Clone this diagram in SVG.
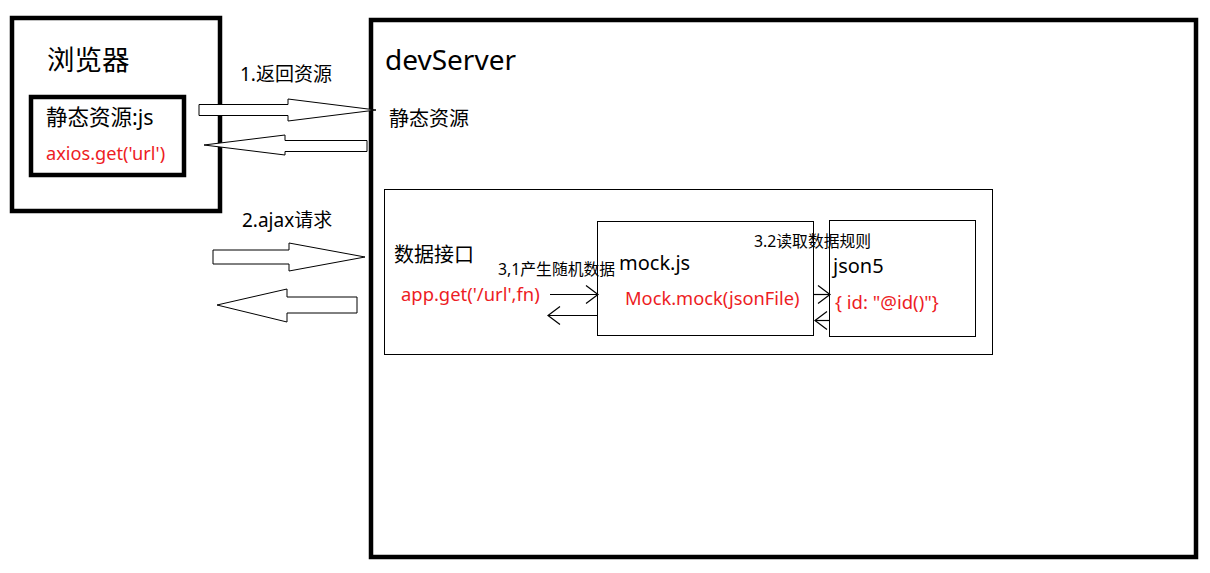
<svg xmlns="http://www.w3.org/2000/svg" width="1210" height="573" viewBox="0 0 1210 573">
<style>
text{font-family:"Noto Sans","Noto Sans CJK SC",sans-serif;fill:#000}
.red{fill:#ed1c24}
.thick{fill:none;stroke:#000;stroke-width:4.5}
.thin{fill:none;stroke:#000;stroke-width:1}
.big{fill:#fff;stroke:#000;stroke-width:1}
.ln{stroke:#000;stroke-width:1.2;fill:none}
</style>
<defs>
<marker id="open" viewBox="0 0 14 20" refX="13" refY="10" markerWidth="14" markerHeight="20" markerUnits="userSpaceOnUse" orient="auto">
<path d="M1,1 L13,10 L1,19" fill="none" stroke="#000" stroke-width="1.2"/>
</marker>
</defs>
<rect width="1210" height="573" fill="#fff"/>
<g id="browser">
<rect class="thick" x="12" y="18" width="208" height="193"/>
<text x="47" y="70" font-size="27.5">浏览器</text>
</g>
<g id="static-js">
<rect class="thick" x="31" y="97" width="153" height="78"/>
<text x="46" y="125" font-size="21.5">静态资源:js</text>
<text class="red" x="46" y="160" font-size="18.2">axios.get('url')</text>
</g>
<g id="devServer">
<rect class="thick" x="371" y="20" width="825" height="537"/>
<text x="385" y="70" font-size="28">devServer</text>
<text x="389" y="126" font-size="20">静态资源</text>
</g>
<g id="data-api">
<rect class="thin" x="384.5" y="189.5" width="608" height="165"/>
<text x="394" y="262" font-size="20">数据接口</text>
<text class="red" x="401" y="301" font-size="18.4">app.get('/url',fn)</text>
</g>
<g id="mockjs">
<rect class="thin" x="597.5" y="221.5" width="216" height="114"/>
<text x="619" y="270" font-size="20">mock.js</text>
<text class="red" x="625" y="305" font-size="18.3">Mock.mock(jsonFile)</text>
</g>
<g id="json5">
<rect class="thin" x="829.5" y="220.5" width="146" height="116"/>
<text x="833" y="273" font-size="20">json5</text>
<text class="red" x="835" y="309" font-size="18.5">{ id: "@id()"}</text>
</g>
<g id="connectors">
<path class="big" d="M199,104.5 L288,104.5 L288,99 L376,110 L288,121 L288,115.5 L199,115.5 Z"/>
<path class="big" d="M367,140.5 L285,140.5 L285,135 L204,145 L285,155 L285,151.5 L367,151.5 Z"/>
<path class="big" d="M213,250 L289,250 L289,243 L365,257 L289,271 L289,264 L213,264 Z"/>
<path class="big" d="M357,297 L287,297 L287,289 L217,305 L287,322 L287,313 L357,313 Z"/>
<line class="ln" x1="550" y1="294.5" x2="598" y2="294.5" marker-end="url(#open)"/>
<line class="ln" x1="597" y1="315.5" x2="548" y2="315.5" marker-end="url(#open)"/>
<line class="ln" x1="813" y1="294.5" x2="830" y2="294.5" marker-end="url(#open)"/>
<line class="ln" x1="829" y1="320.5" x2="815" y2="320.5" marker-end="url(#open)"/>
<text x="240" y="81" font-size="19">1.返回资源</text>
<text x="242" y="227" font-size="19">2.ajax请求</text>
<text x="498" y="275" font-size="15.8">3,1产生随机数据</text>
<text x="754" y="247" font-size="15.8">3.2读取数据规则</text>
</g>
</svg>
